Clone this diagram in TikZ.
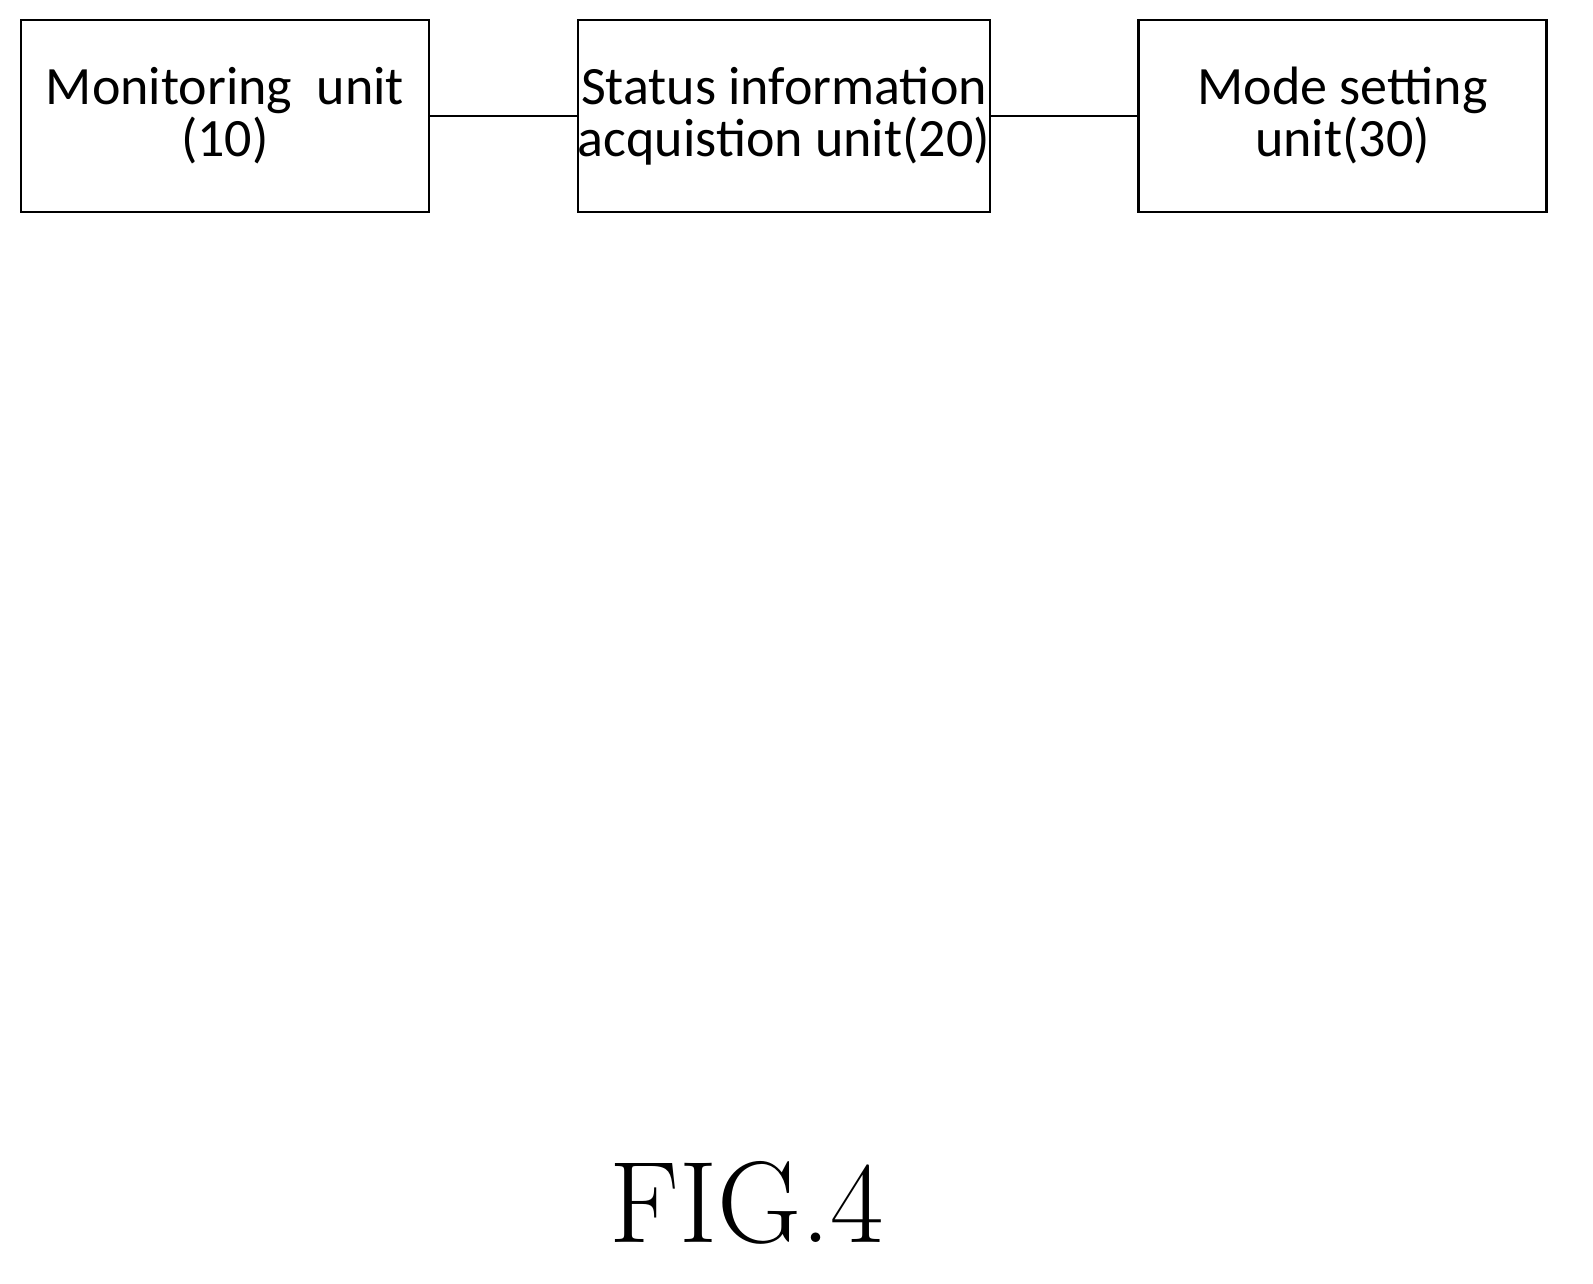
\documentclass[tikz,border=0pt]{standalone}
\usepackage{fontspec}
\setmainfont{Latin Modern Roman}
\newfontfamily\boxfont{Carlito}
\begin{document}
\begin{tikzpicture}[x=0.5pt,y=-0.5pt,
  box/.style={draw,line width=1.2pt,minimum width=204pt,minimum height=96pt,align=center,font=\boxfont\fontsize{27}{26}\selectfont,inner sep=0pt},
  link/.style={line width=1.2pt}]
\useasboundingbox (0,0) rectangle (1593,1283);
\node[box] (m) at (225,116) {Monitoring\ \ unit\\(10)};
\node[box] (s) at (784,116) {Status information\\acquistion unit(20)};
\node[box] (d) at (1342.5,116) {Mode setting\\unit(30)};
\draw[link] (m) -- (s);
\draw[link] (s) -- (d);
\node[font=\fontsize{58}{60}\selectfont] (f) at (747,1203) {FIG.4};
\end{tikzpicture}
\end{document}
